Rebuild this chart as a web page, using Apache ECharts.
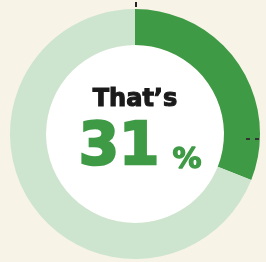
<!DOCTYPE html>
<html>
<head>
<meta charset="utf-8">
<script src="https://cdn.jsdelivr.net/npm/echarts@6/dist/echarts.min.js"></script>
<style>
html,body{margin:0;padding:0;background:#f8f3e7;}
#c{width:266px;height:262px;}
</style>
</head>
<body>
<div id="c"></div>
<script>
var categories = ['Yes', 'No'];
var values = [31, 69];
var headline = 'That\u2019s';
var unit = '%';

var chart = echarts.init(document.getElementById('c'), null, {renderer: 'canvas'});
var cx = 135, cy = 134, rIn = 89, rOut = 125;
var green = '#3f9a46';
chart.setOption({
  backgroundColor: '#f8f3e7',
  animation: false,
  series: [{
    type: 'pie',
    silent: true,
    center: [cx, cy],
    radius: [rIn, rOut],
    startAngle: 90,
    clockwise: true,
    label: {show: false},
    labelLine: {show: false},
    itemStyle: {borderWidth: 0},
    data: categories.map(function (c, i) {
      return {name: c, value: values[i], itemStyle: {color: i === 0 ? green : '#cde5cf'}};
    })
  }],
  graphic: [
    {type: 'circle', z: -1, silent: true, shape: {cx: cx, cy: cy, r: rIn}, style: {fill: '#ffffff'}},
    {type: 'text', z: 100, style: {text: headline, x: cx, y: 100, textAlign: 'center', textVerticalAlign: 'middle',
      font: 'bold 24px "DejaVu Sans"', fill: '#1a1a1a', stroke: '#1a1a1a', lineWidth: 1.1}},
    {type: 'text', z: 100, style: {text: String(values[0]), x: 119, y: 149, textAlign: 'center', textVerticalAlign: 'middle',
      font: 'bold 58px "DejaVu Sans"', fill: green, stroke: green, lineWidth: 2.4}},
    {type: 'text', z: 100, style: {text: unit, x: 187, y: 160, textAlign: 'center', textVerticalAlign: 'middle',
      font: 'bold 29px "DejaVu Sans"', fill: green, stroke: green, lineWidth: 1.3}},
    {type: 'rect', z: 100, shape: {x: 135, y: 2, width: 2, height: 5}, style: {fill: '#222'}},
    {type: 'rect', z: 100, shape: {x: 246, y: 138, width: 4, height: 2}, style: {fill: '#333'}},
    {type: 'rect', z: 100, shape: {x: 255, y: 138, width: 4, height: 2}, style: {fill: '#333'}}
  ]
});
</script>
</body>
</html>
